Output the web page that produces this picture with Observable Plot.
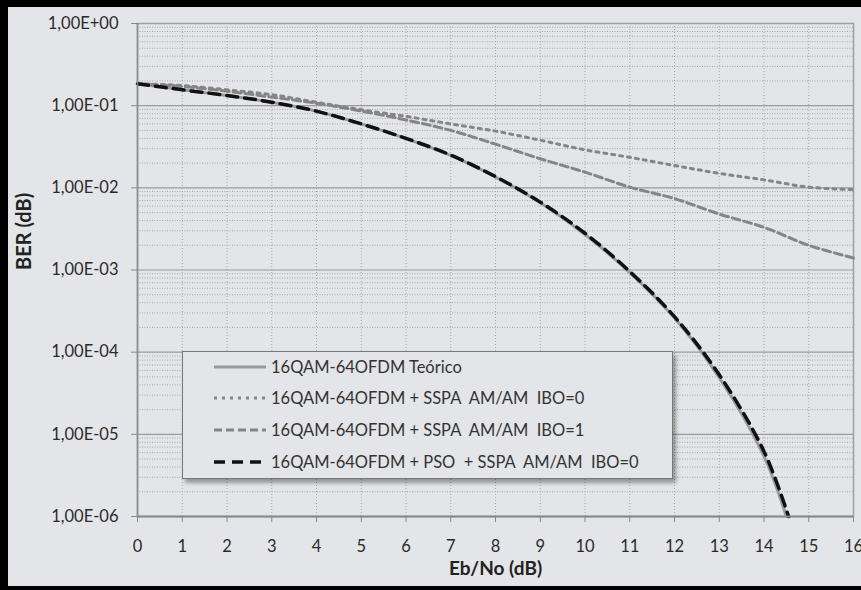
<!DOCTYPE html>
<html><head><meta charset="utf-8">
<script src="https://cdn.jsdelivr.net/npm/d3@7"></script>
<script src="https://cdn.jsdelivr.net/npm/@observablehq/plot@0.6"></script>
<style>
html,body{margin:0;padding:0;background:#000;width:861px;height:590px;overflow:hidden}
#wrap{position:absolute;left:8px;top:7px;width:853px;height:579px;background:#e4e5e8;font-family:Lato,sans-serif}
#legend{position:absolute;left:174px;top:344px;width:489px;height:126px;background:#e4e5e8;border:1px solid #777;box-shadow:3px 4px 4px rgba(0,0,0,0.35)}
</style></head>
<body><div id="wrap"><div id="chart"></div><div id="legend"></div></div>
<script>
// ---- data ----
const ebno = [0,1,2,3,4,5,6,7,8,9,10,11,12,13,14,15,16];
const theoX = [0,1,2,3,4,5,6,7,8,9,10,11,12,13,14,14.5];
const theoY = [0.185,0.156,0.133,0.110,0.0857,0.060,0.0397,0.0248,0.0135,0.0066,0.0027,0.00093,0.00026,0.000049,0.0000054,0.000001];
const psoX = [0,1,2,3,4,5,6,7,8,9,10,11,12,13,14,14.55];
const psoY = [0.185,0.156,0.133,0.110,0.0857,0.060,0.0400,0.0250,0.0137,0.0067,0.0028,0.00096,0.00027,0.000053,0.0000062,0.000001];
const ibo0Y = [0.185,0.176,0.156,0.136,0.110,0.089,0.074,0.060,0.049,0.038,0.029,0.0235,0.0187,0.015,0.0125,0.0102,0.0095];
const ibo1Y = [0.185,0.171,0.150,0.127,0.107,0.086,0.067,0.050,0.034,0.0226,0.0155,0.0102,0.0074,0.0048,0.0033,0.0020,0.0014];
const seriesNames = ["16QAM-64OFDM Teórico","16QAM-64OFDM + SSPA  AM/AM  IBO=0","16QAM-64OFDM + SSPA  AM/AM  IBO=1","16QAM-64OFDM + PSO  + SSPA  AM/AM  IBO=0"];
const yTicks = [1,1e-1,1e-2,1e-3,1e-4,1e-5,1e-6];
const yTickLabels = ["1,00E+00","1,00E-01","1,00E-02","1,00E-03","1,00E-04","1,00E-05","1,00E-06"];
const xTicks = ebno;
const xTitle = "Eb/No (dB)";
const yTitle = "BER (dB)";
const minor = [];
for (let k = -6; k < 0; k++) for (let m = 2; m <= 9; m++) minor.push(m * Math.pow(10, k));

const styles = [
  {stroke:"#9a9a9a", strokeWidth:3, dash:null},
  {stroke:"#858585", strokeWidth:3, dash:"3,5"},
  {stroke:"#858585", strokeWidth:3, dash:"8,4"},
  {stroke:"#111", strokeWidth:3.5, dash:"11,7"}
];

const theo = theoX.map((x,i)=>({x, y:theoY[i]}));
const pso = psoX.map((x,i)=>({x, y:psoY[i]}));
const ibo0 = ebno.map((x,i)=>({x, y:ibo0Y[i]}));
const ibo1 = ebno.map((x,i)=>({x, y:ibo1Y[i]}));

const lineOpts = (s) => ({x:"x", y:"y", stroke:s.stroke, strokeWidth:s.strokeWidth, strokeDasharray:s.dash, curve:"catmull-rom"});

const chart = Plot.plot({
  width: 853, height: 579,
  marginLeft: 129, marginRight: 8, marginTop: 16, marginBottom: 70,
  style: {background:"transparent", fontFamily:"Lato, sans-serif", fontSize:"16.5px", color:"#2b2b2b"},
  x: {domain:[0,16]},
  y: {type:"log", domain:[1e-6,1]},
  marks: [
    Plot.ruleY(minor, {stroke:"#a8a8a8", strokeDasharray:"1,1.5", strokeWidth:1}),
    Plot.ruleX(xTicks, {stroke:"#a8a8a8", strokeDasharray:"1,2", strokeWidth:1}),
    Plot.ruleY(yTicks, {stroke:"#9a9a9a", strokeWidth:1.2}),
    Plot.frame({stroke:"#a0a0a0", strokeWidth:1.5}),
    Plot.line(theo, lineOpts(styles[0])),
    Plot.line(ibo0, lineOpts(styles[1])),
    Plot.line(ibo1, lineOpts(styles[2])),
    Plot.line(pso, lineOpts(styles[3])),
    Plot.ruleX([0], {stroke:"#8a8a8a", strokeWidth:1.5}),
    Plot.ruleY([1e-6], {stroke:"#8a8a8a", strokeWidth:2}),
    Plot.axisX({ticks:xTicks, tickSize:6, tickPadding:18, stroke:"#888", label:null, tickFormat:d=>String(d)}),
    Plot.axisY({ticks:yTicks, tickSize:6, tickPadding:13, stroke:"#888", label:null, tickFormat:d=>yTickLabels[yTicks.indexOf(d)]}),
    Plot.text([xTitle], {frameAnchor:"bottom", dy:58, fontWeight:"bold", fontSize:19, fill:"#222"}),
    Plot.text([yTitle], {frameAnchor:"left", dx:-113, rotate:-90, fontWeight:"bold", fontSize:20, fill:"#222"})
  ]
});
document.getElementById("chart").appendChild(chart);

// legend
const lg = d3.select("#legend").append("svg").attr("width",489).attr("height",126)
  .style("font-family","Lato, sans-serif").style("font-size","16.5px");
const rowY = [15, 46, 78, 110];
seriesNames.forEach((name,i)=>{
  const s = styles[i];
  lg.append("line").attr("x1",31).attr("x2",83).attr("y1",rowY[i]).attr("y2",rowY[i])
    .attr("stroke",s.stroke).attr("stroke-width",s.strokeWidth).attr("stroke-dasharray",s.dash);
  lg.append("text").attr("x",88).attr("y",rowY[i]).attr("dy","0.35em").attr("fill","#333")
    .attr("xml:space","preserve").style("white-space","pre").text(name);
});
</script></body></html>
